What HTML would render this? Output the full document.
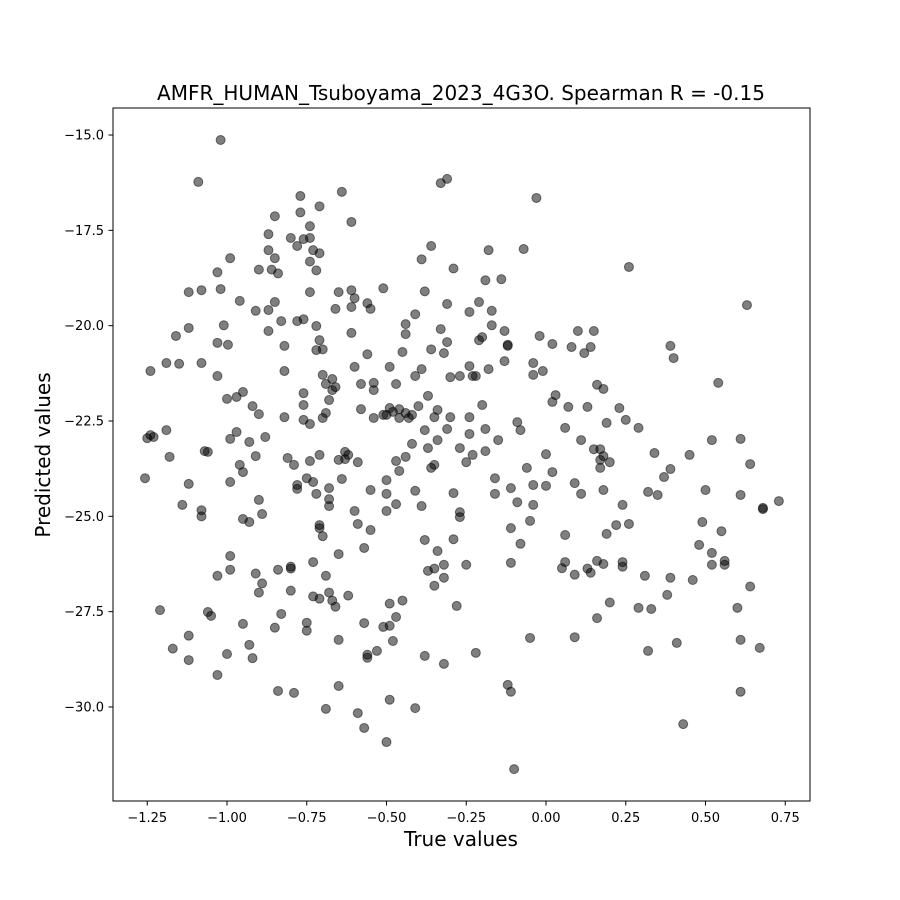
<!DOCTYPE html>
<html><head><meta charset="utf-8"><style>
body{margin:0;background:#fff;}
svg{display:block;font-family:"DejaVu Sans","Liberation Sans",sans-serif;}
</style></head><body>
<svg id="chart" width="900" height="900" viewBox="0 0 900 900">
<rect x="0" y="0" width="900" height="900" fill="#fff"/>
<text x="461" y="100" font-size="20" text-anchor="middle">AMFR_HUMAN_Tsuboyama_2023_4G3O. Spearman R = -0.15</text>
<g id="points"></g>
<g id="xticks"></g>
<g id="yticks"></g>
<rect x="113" y="108" width="697" height="693" fill="none" stroke="#000" stroke-width="1"/>
<text x="461" y="846" font-size="20" text-anchor="middle">True values</text>
<text x="50" y="455" font-size="20" text-anchor="middle" transform="rotate(-90 50 455)">Predicted values</text>
</svg>
<script>
const xTicks=[-1.25,-1.0,-0.75,-0.5,-0.25,0.0,0.25,0.5,0.75];
const xTickLabels=["−1.25","−1.00","−0.75","−0.50","−0.25","0.00","0.25","0.50","0.75"];
const yTicks=[-15,-17.5,-20,-22.5,-25,-27.5,-30];
const yTickLabels=["−15.0","−17.5","−20.0","−22.5","−25.0","−27.5","−30.0"];
const trueVals=[-1.257,-1.25,-1.24,-1.24,-1.23,-1.21,-1.19,-1.19,-1.18,-1.17,-1.16,-1.15,-1.14,-1.12,-1.12,-1.12,-1.12,-1.12,-1.09,-1.08,-1.08,-1.08,-1.08,-1.07,-1.06,-1.06,-1.05,-1.03,-1.03,-1.03,-1.03,-1.03,-1.02,-1.02,-1.01,-1.00,-1.00,-0.997,-0.99,-0.99,-0.99,-0.99,-0.99,-0.97,-0.97,-0.96,-0.96,-0.95,-0.95,-0.95,-0.95,-0.93,-0.93,-0.93,-0.92,-0.92,-0.91,-0.91,-0.91,-0.90,-0.90,-0.90,-0.89,-0.89,-0.90,-0.88,-0.87,-0.87,-0.87,-0.87,-0.86,-0.85,-0.85,-0.85,-0.84,-0.84,-0.84,-0.85,-0.83,-0.83,-0.82,-0.82,-0.82,-0.81,-0.80,-0.80,-0.80,-0.80,-0.79,-0.79,-0.78,-0.78,-0.78,-0.78,-0.77,-0.77,-0.76,-0.76,-0.76,-0.76,-0.76,-0.75,-0.75,-0.75,-0.74,-0.74,-0.74,-0.74,-0.74,-0.74,-0.73,-0.73,-0.73,-0.73,-0.72,-0.72,-0.72,-0.72,-0.71,-0.71,-0.71,-0.71,-0.71,-0.71,-0.71,-0.70,-0.70,-0.70,-0.70,-0.69,-0.69,-0.69,-0.69,-0.68,-0.68,-0.68,-0.68,-0.68,-0.67,-0.67,-0.67,-0.66,-0.66,-0.66,-0.65,-0.65,-0.65,-0.65,-0.65,-0.64,-0.64,-0.63,-0.63,-0.62,-0.62,-0.61,-0.61,-0.61,-0.61,-0.60,-0.60,-0.60,-0.59,-0.59,-0.59,-0.58,-0.58,-0.57,-0.57,-0.57,-0.56,-0.56,-0.56,-0.56,-0.55,-0.55,-0.55,-0.54,-0.54,-0.54,-0.53,-0.51,-0.51,-0.51,-0.50,-0.50,-0.50,-0.50,-0.50,-0.49,-0.49,-0.49,-0.49,-0.49,-0.48,-0.48,-0.47,-0.47,-0.47,-0.47,-0.46,-0.46,-0.46,-0.45,-0.45,-0.44,-0.44,-0.44,-0.44,-0.43,-0.42,-0.42,-0.41,-0.41,-0.41,-0.41,-0.40,-0.39,-0.39,-0.39,-0.38,-0.38,-0.38,-0.38,-0.37,-0.37,-0.37,-0.36,-0.36,-0.36,-0.35,-0.35,-0.35,-0.35,-0.34,-0.34,-0.34,-0.33,-0.33,-0.32,-0.32,-0.32,-0.32,-0.31,-0.31,-0.31,-0.31,-0.30,-0.30,-0.29,-0.29,-0.29,-0.28,-0.27,-0.27,-0.27,-0.27,-0.25,-0.25,-0.24,-0.24,-0.24,-0.24,-0.23,-0.23,-0.22,-0.22,-0.21,-0.21,-0.20,-0.20,-0.19,-0.19,-0.19,-0.18,-0.18,-0.17,-0.17,-0.16,-0.16,-0.15,-0.14,-0.13,-0.13,-0.12,-0.12,-0.12,-0.11,-0.11,-0.11,-0.11,-0.10,-0.09,-0.09,-0.08,-0.08,-0.07,-0.06,-0.05,-0.05,-0.04,-0.04,-0.04,-0.04,-0.03,-0.02,-0.01,0.00,0.00,0.02,0.02,0.02,0.03,0.05,0.06,0.06,0.06,0.07,0.08,0.09,0.09,0.09,0.10,0.11,0.11,0.12,0.13,0.13,0.14,0.14,0.15,0.15,0.16,0.16,0.16,0.17,0.17,0.17,0.18,0.18,0.18,0.18,0.19,0.19,0.20,0.20,0.22,0.23,0.24,0.24,0.24,0.25,0.26,0.26,0.29,0.29,0.31,0.32,0.32,0.33,0.34,0.35,0.37,0.38,0.39,0.39,0.39,0.40,0.41,0.43,0.45,0.46,0.48,0.49,0.50,0.52,0.52,0.52,0.54,0.55,0.56,0.56,0.60,0.61,0.61,0.61,0.61,0.63,0.64,0.64,0.67,0.68,0.68,0.73];
const predVals=[-24.0,-22.95,-22.87,-21.19,-22.92,-27.46,-20.98,-22.74,-23.44,-28.47,-20.27,-21.0,-24.7,-20.06,-19.12,-24.15,-28.13,-28.77,-16.23,-24.84,-25.0,-20.98,-19.07,-23.29,-23.31,-27.51,-27.61,-18.6,-21.32,-26.56,-29.16,-20.45,-15.13,-19.04,-19.99,-21.92,-28.61,-20.5,-24.1,-18.23,-22.97,-26.04,-26.4,-21.87,-22.79,-23.65,-19.35,-25.07,-21.74,-23.84,-27.82,-28.37,-25.15,-23.05,-28.72,-22.11,-26.5,-19.61,-23.42,-18.53,-22.32,-24.57,-24.94,-26.76,-27.0,-22.92,-20.14,-19.59,-18.02,-17.6,-18.53,-17.13,-18.23,-19.38,-18.63,-29.58,-26.4,-27.92,-27.56,-19.88,-20.53,-22.4,-21.19,-23.47,-17.7,-26.37,-26.32,-26.95,-23.65,-29.63,-17.91,-24.28,-24.18,-19.88,-17.03,-16.6,-21.77,-22.47,-22.08,-19.83,-17.73,-28.0,-27.79,-24.0,-22.58,-23.55,-18.32,-17.7,-17.39,-19.12,-26.2,-24.1,-27.1,-18.02,-18.55,-20.64,-20.01,-24.41,-27.16,-20.38,-18.1,-25.23,-16.87,-23.39,-25.31,-20.62,-21.29,-25.52,-22.42,-22.29,-21.53,-26.56,-30.05,-24.55,-27.0,-24.26,-24.73,-21.95,-21.4,-27.21,-21.69,-27.37,-21.61,-19.56,-19.12,-23.52,-25.99,-28.24,-29.45,-16.49,-24.02,-23.5,-23.31,-23.39,-27.08,-17.28,-19.51,-19.07,-20.19,-21.08,-19.28,-24.86,-23.58,-25.2,-30.16,-21.53,-22.19,-27.8,-30.55,-25.83,-20.75,-19.41,-28.63,-28.71,-24.31,-25.36,-19.56,-21.5,-21.69,-22.42,-28.53,-19.02,-22.34,-27.9,-30.92,-24.05,-24.86,-22.34,-24.41,-22.16,-27.87,-29.81,-21.08,-27.29,-22.26,-28.27,-21.53,-24.68,-23.55,-27.64,-22.19,-23.81,-22.42,-27.21,-20.69,-23.44,-19.96,-20.22,-22.29,-22.42,-22.34,-23.1,-24.33,-21.32,-19.7,-30.03,-22.11,-18.26,-21.14,-24.73,-19.1,-22.74,-25.62,-28.66,-21.84,-23.21,-26.43,-17.91,-20.62,-23.73,-23.65,-26.82,-26.37,-22.4,-22.21,-25.91,-23.0,-20.09,-16.26,-26.61,-26.27,-20.72,-28.87,-16.15,-20.43,-22.71,-19.43,-22.4,-21.35,-24.39,-25.6,-18.5,-27.35,-21.32,-23.21,-25.02,-24.89,-26.27,-23.58,-22.4,-22.84,-21.06,-19.64,-23.39,-21.32,-21.32,-28.58,-19.38,-20.38,-22.08,-20.3,-22.71,-23.29,-18.81,-21.14,-18.02,-19.99,-19.61,-24.0,-24.41,-23.0,-18.78,-20.14,-20.93,-20.5,-29.42,-20.53,-29.6,-26.22,-24.26,-25.31,-31.63,-24.63,-22.53,-25.72,-22.74,-17.99,-23.73,-28.19,-25.12,-24.18,-21.29,-20.98,-24.7,-16.65,-20.27,-21.19,-24.2,-23.37,-22.0,-20.48,-23.84,-21.82,-26.36,-22.68,-25.49,-26.2,-22.13,-20.56,-24.13,-26.53,-28.17,-20.14,-24.41,-23.0,-20.72,-22.13,-26.37,-26.48,-20.56,-23.24,-20.14,-21.55,-27.67,-26.17,-23.24,-23.73,-23.52,-23.42,-26.25,-21.66,-24.31,-25.46,-22.55,-23.58,-27.26,-25.23,-22.16,-26.32,-24.7,-26.2,-22.47,-25.2,-18.46,-22.68,-27.4,-26.56,-24.36,-28.53,-27.43,-23.34,-24.44,-23.97,-27.06,-26.61,-23.76,-20.53,-20.85,-28.32,-30.45,-23.39,-26.67,-25.75,-25.15,-24.31,-25.96,-23.0,-26.27,-21.5,-25.39,-26.27,-26.17,-27.4,-28.24,-24.44,-29.6,-22.97,-19.46,-26.84,-23.63,-28.45,-24.78,-24.81,-24.6];

const NS="http://www.w3.org/2000/svg";
function xScale(v){return 546+v*319;}
function yScale(v){return 421-(v+22.5)*38.13;}

const pg=document.getElementById('points');
for(let i=0;i<trueVals.length;i++){
  const c=document.createElementNS(NS,'circle');
  c.setAttribute('cx',xScale(trueVals[i]));
  c.setAttribute('cy',yScale(predVals[i]));
  c.setAttribute('r',4.5);
  c.setAttribute('fill','rgba(0,0,0,0.5)');
  c.setAttribute('stroke','rgba(0,0,0,0.5)');
  c.setAttribute('stroke-width','1');
  
  
  pg.appendChild(c);
}
const xg=document.getElementById('xticks');
xTicks.forEach((t,i)=>{
  const x=xScale(t);
  const l=document.createElementNS(NS,'line');
  l.setAttribute('x1',x);l.setAttribute('x2',x);l.setAttribute('y1',801);l.setAttribute('y2',805.5);
  l.setAttribute('stroke','#000');
  
  
  xg.appendChild(l);
  const tx=document.createElementNS(NS,'text');
  tx.setAttribute('x',x);tx.setAttribute('y',822);tx.setAttribute('font-size','13');tx.setAttribute('text-anchor','middle');
  tx.textContent=xTickLabels[i];
  
  
  xg.appendChild(tx);
});
const yg=document.getElementById('yticks');
yTicks.forEach((t,i)=>{
  const y=yScale(t);
  const l=document.createElementNS(NS,'line');
  l.setAttribute('x1',108.5);l.setAttribute('x2',113);l.setAttribute('y1',y);l.setAttribute('y2',y);
  l.setAttribute('stroke','#000');
  
  
  yg.appendChild(l);
  const tx=document.createElementNS(NS,'text');
  tx.setAttribute('x',104);tx.setAttribute('y',y+4.5);tx.setAttribute('font-size','13');tx.setAttribute('text-anchor','end');
  tx.textContent=yTickLabels[i];
  
  
  yg.appendChild(tx);
});
</script>
</body></html>
